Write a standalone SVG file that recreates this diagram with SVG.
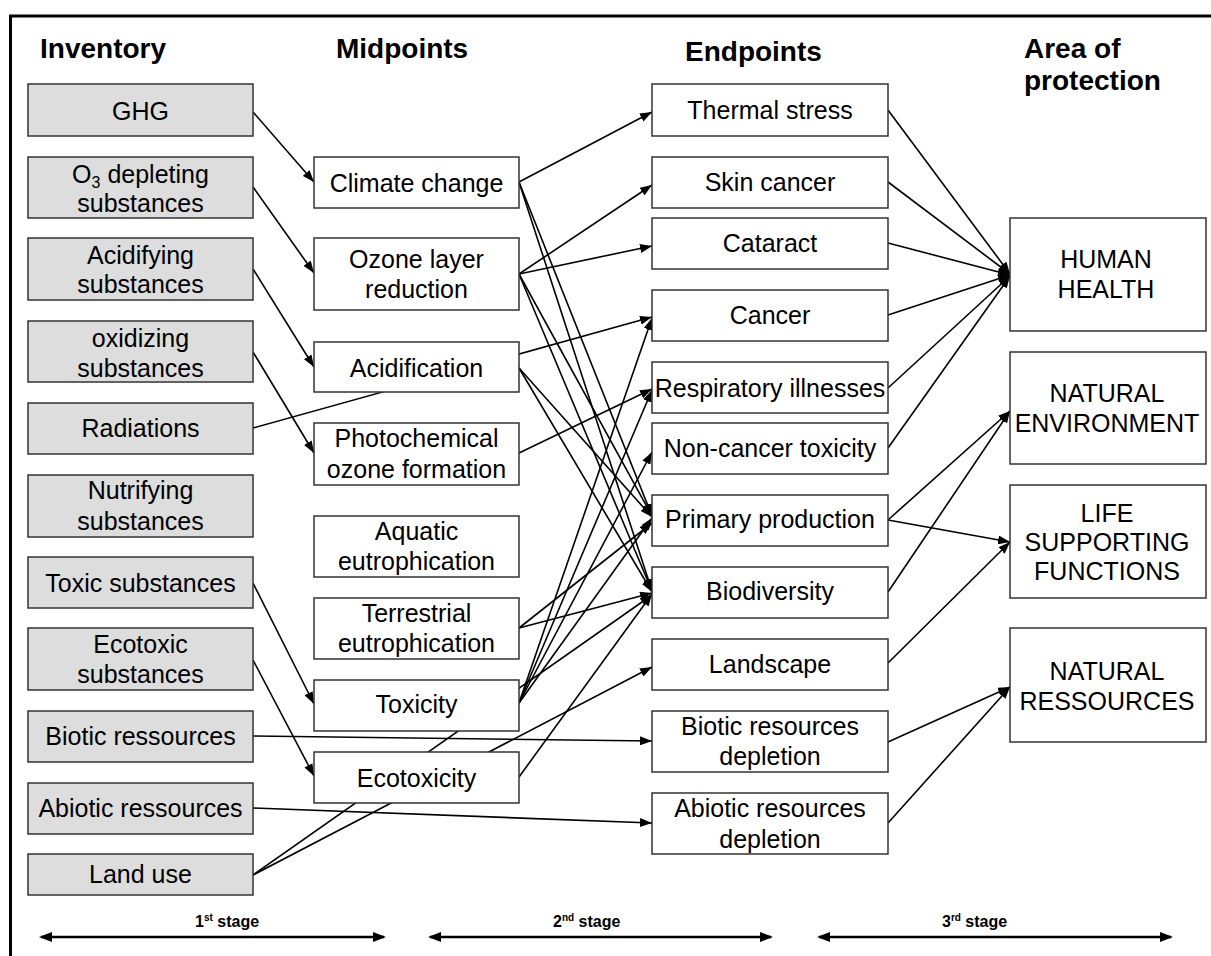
<svg xmlns="http://www.w3.org/2000/svg" width="1211" height="956" viewBox="0 0 1211 956">
<style>
  text { font-family: "Liberation Sans", Arial, sans-serif; fill: #000; }
  .h { font-size: 28px; font-weight: bold; }
  .t { font-size: 25px; text-anchor: middle; }
  .s { font-size: 16px; font-weight: bold; }
  .inv { fill: #dddddd; stroke: #333; stroke-width: 1.5; }
  .box { fill: #ffffff; stroke: #333; stroke-width: 1.5; }
  .c { stroke: #000; stroke-width: 1.6; fill: none; marker-end: url(#ah); }
  .st { stroke: #000; stroke-width: 2.5; fill: none; marker-start: url(#sh); marker-end: url(#sh); }
  .frame { stroke: #000; stroke-width: 3; fill: none; }
</style>
<defs>
  <marker id="ah" markerUnits="userSpaceOnUse" markerWidth="12" markerHeight="9" refX="12" refY="4.5" orient="auto">
    <path d="M0,0 L12,4.5 L0,9 z" fill="#000"/>
  </marker>
  <marker id="sh" markerUnits="userSpaceOnUse" markerWidth="13" markerHeight="10" refX="11" refY="5" orient="auto-start-reverse">
    <path d="M0,0 L13,5 L0,10 z" fill="#000"/>
  </marker>
</defs>
<rect x="0" y="0" width="1211" height="956" fill="#fff"/>
<g id="frame">
  <line class="frame" x1="9" y1="16" x2="1211" y2="16"/>
  <line class="frame" x1="10.5" y1="15" x2="10.5" y2="956"/>
</g>
<g id="headers">
  <text class="h" x="40" y="58">Inventory</text>
  <text class="h" x="336" y="58">Midpoints</text>
  <text class="h" x="685" y="61">Endpoints</text>
  <text class="h" x="1024" y="58">Area of</text>
  <text class="h" x="1024" y="90">protection</text>
</g>
<g id="connectors">
  <line class="c" x1="253" y1="112" x2="314" y2="182"/>
  <line class="c" x1="253" y1="187" x2="314" y2="273"/>
  <line class="c" x1="253" y1="269" x2="314" y2="367"/>
  <line class="c" x1="253" y1="352" x2="314" y2="453"/>
  <line class="c" x1="253" y1="583" x2="314" y2="704"/>
  <line class="c" x1="253" y1="660" x2="314" y2="776"/>
  <line class="c" x1="253" y1="428" x2="652" y2="317"/>
  <line class="c" x1="253" y1="736" x2="652" y2="741"/>
  <line class="c" x1="253" y1="808" x2="652" y2="823"/>
  <line class="c" x1="253" y1="875" x2="652" y2="595"/>
  <line class="c" x1="253" y1="875" x2="652" y2="667"/>
  <line class="c" x1="519" y1="182" x2="652" y2="112"/>
  <line class="c" x1="519" y1="182" x2="652" y2="516"/>
  <line class="c" x1="519" y1="182" x2="652" y2="591"/>
  <line class="c" x1="519" y1="274" x2="652" y2="185"/>
  <line class="c" x1="519" y1="274" x2="652" y2="246"/>
  <line class="c" x1="519" y1="274" x2="652" y2="516"/>
  <line class="c" x1="519" y1="274" x2="652" y2="591"/>
  <line class="c" x1="519" y1="368" x2="652" y2="517"/>
  <line class="c" x1="519" y1="368" x2="652" y2="592"/>
  <line class="c" x1="519" y1="453" x2="652" y2="389"/>
  <line class="c" x1="519" y1="628" x2="652" y2="523"/>
  <line class="c" x1="519" y1="628" x2="652" y2="593"/>
  <line class="c" x1="519" y1="703" x2="652" y2="318"/>
  <line class="c" x1="519" y1="703" x2="652" y2="390"/>
  <line class="c" x1="519" y1="703" x2="652" y2="452"/>
  <line class="c" x1="519" y1="703" x2="652" y2="518"/>
  <line class="c" x1="519" y1="777" x2="652" y2="594"/>
  <line class="c" x1="888" y1="110" x2="1010" y2="274"/>
  <line class="c" x1="888" y1="182" x2="1010" y2="274"/>
  <line class="c" x1="888" y1="243" x2="1010" y2="275"/>
  <line class="c" x1="888" y1="315" x2="1010" y2="275"/>
  <line class="c" x1="888" y1="388" x2="1010" y2="276"/>
  <line class="c" x1="888" y1="448" x2="1010" y2="276"/>
  <line class="c" x1="888" y1="520" x2="1010" y2="411"/>
  <line class="c" x1="888" y1="520" x2="1010" y2="542"/>
  <line class="c" x1="888" y1="592" x2="1010" y2="411"/>
  <line class="c" x1="888" y1="663" x2="1010" y2="542"/>
  <line class="c" x1="888" y1="742" x2="1010" y2="687"/>
  <line class="c" x1="888" y1="823" x2="1010" y2="687"/>
</g>
<g id="inv-ghg"><rect class="inv" x="28" y="84" width="225" height="52"/><text class="t" x="140.5" y="120">GHG</text></g>
<g id="inv-o3"><rect class="inv" x="28" y="157" width="225" height="61"/><text class="t" x="140.5" y="183">O<tspan font-size="16" dy="5">3</tspan><tspan dy="-5"> depleting</tspan></text><text class="t" x="140.5" y="212">substances</text></g>
<g id="inv-acid"><rect class="inv" x="28" y="238" width="225" height="62"/><text class="t" x="140.5" y="264">Acidifying</text><text class="t" x="140.5" y="293">substances</text></g>
<g id="inv-oxid"><rect class="inv" x="28" y="321" width="225" height="61"/><text class="t" x="140.5" y="347">oxidizing</text><text class="t" x="140.5" y="377">substances</text></g>
<g id="inv-rad"><rect class="inv" x="28" y="403" width="225" height="51"/><text class="t" x="140.5" y="437">Radiations</text></g>
<g id="inv-nutr"><rect class="inv" x="28" y="475" width="225" height="62"/><text class="t" x="140.5" y="499">Nutrifying</text><text class="t" x="140.5" y="530">substances</text></g>
<g id="inv-tox"><rect class="inv" x="28" y="557" width="225" height="51"/><text class="t" x="140.5" y="592">Toxic substances</text></g>
<g id="inv-ecotox"><rect class="inv" x="28" y="628" width="225" height="62"/><text class="t" x="140.5" y="653">Ecotoxic</text><text class="t" x="140.5" y="683">substances</text></g>
<g id="inv-biotic"><rect class="inv" x="28" y="711" width="225" height="51"/><text class="t" x="140.5" y="745">Biotic ressources</text></g>
<g id="inv-abiotic"><rect class="inv" x="28" y="783" width="225" height="51"/><text class="t" x="140.5" y="817">Abiotic ressources</text></g>
<g id="inv-land"><rect class="inv" x="28" y="854" width="225" height="41"/><text class="t" x="140.5" y="883">Land use</text></g>

<g id="mid-cc"><rect class="box" x="314" y="157" width="205" height="51"/><text class="t" x="416.5" y="192">Climate change</text></g>
<g id="mid-ozone"><rect class="box" x="314" y="238" width="205" height="72"/><text class="t" x="416.5" y="268">Ozone layer</text><text class="t" x="416.5" y="298">reduction</text></g>
<g id="mid-acid"><rect class="box" x="314" y="342" width="205" height="50"/><text class="t" x="416.5" y="377">Acidification</text></g>
<g id="mid-photo"><rect class="box" x="314" y="423" width="205" height="62"/><text class="t" x="416.5" y="447">Photochemical</text><text class="t" x="416.5" y="478">ozone formation</text></g>
<g id="mid-aqua"><rect class="box" x="314" y="516" width="205" height="61"/><text class="t" x="416.5" y="540">Aquatic</text><text class="t" x="416.5" y="570">eutrophication</text></g>
<g id="mid-terr"><rect class="box" x="314" y="598" width="205" height="61"/><text class="t" x="416.5" y="622">Terrestrial</text><text class="t" x="416.5" y="652">eutrophication</text></g>
<g id="mid-tox"><rect class="box" x="314" y="680" width="205" height="51"/><text class="t" x="416.5" y="713">Toxicity</text></g>
<g id="mid-ecotox"><rect class="box" x="314" y="752" width="205" height="51"/><text class="t" x="416.5" y="787">Ecotoxicity</text></g>

<g id="end-thermal"><rect class="box" x="652" y="84" width="236" height="52"/><text class="t" x="770" y="119">Thermal stress</text></g>
<g id="end-skin"><rect class="box" x="652" y="157" width="236" height="51"/><text class="t" x="770" y="191">Skin cancer</text></g>
<g id="end-cataract"><rect class="box" x="652" y="218" width="236" height="51"/><text class="t" x="770" y="252">Cataract</text></g>
<g id="end-cancer"><rect class="box" x="652" y="290" width="236" height="51"/><text class="t" x="770" y="324">Cancer</text></g>
<g id="end-resp"><rect class="box" x="652" y="362" width="236" height="51"/><text class="t" x="770" y="397">Respiratory illnesses</text></g>
<g id="end-noncancer"><rect class="box" x="652" y="423" width="236" height="51"/><text class="t" x="770" y="457">Non-cancer toxicity</text></g>
<g id="end-pp"><rect class="box" x="652" y="495" width="236" height="51"/><text class="t" x="770" y="528">Primary production</text></g>
<g id="end-bio"><rect class="box" x="652" y="567" width="236" height="51"/><text class="t" x="770" y="600">Biodiversity</text></g>
<g id="end-land"><rect class="box" x="652" y="639" width="236" height="51"/><text class="t" x="770" y="673">Landscape</text></g>
<g id="end-biotic"><rect class="box" x="652" y="711" width="236" height="61"/><text class="t" x="770" y="735">Biotic resources</text><text class="t" x="770" y="765">depletion</text></g>
<g id="end-abiotic"><rect class="box" x="652" y="793" width="236" height="61"/><text class="t" x="770" y="817">Abiotic resources</text><text class="t" x="770" y="848">depletion</text></g>

<g id="aop-hh"><rect class="box" x="1010" y="218" width="196" height="113"/><text class="t" x="1106" y="268">HUMAN</text><text class="t" x="1106" y="298">HEALTH</text></g>
<g id="aop-ne"><rect class="box" x="1010" y="352" width="196" height="112"/><text class="t" x="1107" y="402">NATURAL</text><text class="t" x="1107" y="432">ENVIRONMENT</text></g>
<g id="aop-lsf"><rect class="box" x="1010" y="485" width="196" height="113"/><text class="t" x="1107" y="522">LIFE</text><text class="t" x="1107" y="551">SUPPORTING</text><text class="t" x="1107" y="580">FUNCTIONS</text></g>
<g id="aop-nr"><rect class="box" x="1010" y="628" width="196" height="114"/><text class="t" x="1107" y="680">NATURAL</text><text class="t" x="1107" y="710">RESSOURCES</text></g>

<g id="stages">
  <line class="st" x1="41" y1="937" x2="384" y2="937"/>
  <text class="s" x="195" y="927">1<tspan font-size="10" dy="-6">st</tspan><tspan dy="6"> stage</tspan></text>
  <line class="st" x1="430" y1="937" x2="771" y2="937"/>
  <text class="s" x="553" y="927">2<tspan font-size="10" dy="-6">nd</tspan><tspan dy="6"> stage</tspan></text>
  <line class="st" x1="819" y1="937" x2="1171" y2="937"/>
  <text class="s" x="942" y="927">3<tspan font-size="10" dy="-6">rd</tspan><tspan dy="6"> stage</tspan></text>
</g>
</svg>
